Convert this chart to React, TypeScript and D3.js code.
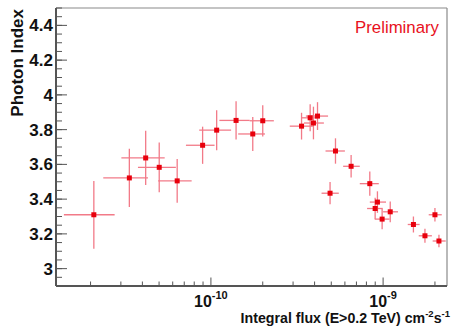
import React from "react";
import * as d3 from "d3";

// Integral flux (E>0.2 TeV), cm^-2 s^-1, in units of 1e-10
const flux = [0.209, 0.336, 0.418, 0.501, 0.637, 0.895, 1.08, 1.40, 1.75, 2.00, 3.36, 3.77, 3.94, 4.16, 5.29, 6.52, 4.92, 8.37, 9.27, 8.99, 11.0, 9.87, 15.0, 17.5, 20.0, 21.1];
const fluxLo = [0.140, 0.237, 0.302, 0.377, 0.494, 0.716, 0.855, 1.12, 1.44, 1.68, 2.87, 3.37, 3.47, 3.56, 4.63, 5.86, 4.39, 7.32, 8.37, 8.07, 10.0, 8.95, 13.9, 16.1, 18.4, 19.4];
const fluxHi = [0.276, 0.431, 0.539, 0.626, 0.773, 1.05, 1.31, 1.68, 2.06, 2.32, 3.91, 4.18, 4.53, 4.79, 6.00, 7.32, 5.53, 9.44, 10.4, 9.96, 12.2, 10.9, 16.3, 19.2, 21.9, 23.1];
const index = [3.31, 3.522, 3.637, 3.583, 3.505, 3.710, 3.797, 3.853, 3.775, 3.851, 3.820, 3.868, 3.838, 3.878, 3.677, 3.589, 3.434, 3.489, 3.383, 3.346, 3.327, 3.285, 3.254, 3.189, 3.310, 3.159];
const indexErr = [0.195, 0.168, 0.156, 0.143, 0.126, 0.107, 0.115, 0.110, 0.098, 0.090, 0.077, 0.078, 0.094, 0.080, 0.073, 0.065, 0.064, 0.070, 0.062, 0.062, 0.060, 0.058, 0.046, 0.040, 0.039, 0.036];

const yTicks = [3, 3.2, 3.4, 3.6, 3.8, 4, 4.2, 4.4];
const yTickLabels = ["3", "3.2", "3.4", "3.6", "3.8", "4", "4.2", "4.4"];
const xMajor = [1e-10, 1e-9];
const xMajorExp = ["-10", "-9"];
const yDomain = [2.9, 4.5];
const xDomain = [1.26e-11, 2.35e-9];

const W = 451, H = 327;
const L = 56, R = 447, T = 8, B = 286;

export default function App() {
  const x = d3.scaleLog().domain(xDomain).range([L, R]);
  const y = d3.scaleLinear().domain(yDomain).range([B, T]);
  const font = "'Liberation Sans', Arial, Helvetica, sans-serif";
  const red = "#e8000c";
  const pink = "#f27a88";

  const yMinor = d3.range(2.9, 4.5001, 0.05).map((v) => +v.toFixed(2));
  const xMinor: number[] = [];
  for (let e = -11; e <= -9; e++) {
    for (let m = 2; m <= 9; m++) {
      const v = m * Math.pow(10, e);
      if (v >= xDomain[0] && v <= xDomain[1]) xMinor.push(v);
    }
  }

  const pts = flux.map((f, i) => ({
    f: f * 1e-10,
    lo: fluxLo[i] * 1e-10,
    hi: fluxHi[i] * 1e-10,
    v: index[i],
    e: indexErr[i],
  }));

  return (
    <svg width={W} height={H} style={{ display: "block", position: "absolute", left: 0, top: 0 }}>
      <rect x={0} y={0} width={W} height={H} fill="#fff" />
      {/* frame */}
      <line x1={L} x2={R} y1={T} y2={T} stroke="#8a8a8a" strokeWidth={1.2} />
      <line x1={R} x2={R} y1={T} y2={B} stroke="#8a8a8a" strokeWidth={1.2} />
      {/* y minor ticks */}
      {yMinor.map((v, i) => (
        <line key={"ym" + i} x1={L} x2={L + 6} y1={y(v)} y2={y(v)} stroke="#555" strokeWidth={1} />
      ))}
      {yTicks.map((v, i) => (
        <line key={"yM" + i} x1={L} x2={L + 11} y1={y(v)} y2={y(v)} stroke="#555" strokeWidth={1} />
      ))}
      {yTicks.map((v, i) => (
        <text key={"yl" + i} x={L - 3} y={y(v) + 6} textAnchor="end" fontFamily={font} fontWeight="bold" fontSize={17} fill="#111">
          {yTickLabels[i]}
        </text>
      ))}
      {/* x ticks */}
      {xMinor.map((v, i) => (
        <line key={"xm" + i} x1={x(v)} x2={x(v)} y1={B} y2={B - 4.5} stroke="#555" strokeWidth={1} />
      ))}
      {xMajor.map((v, i) => (
        <line key={"xM" + i} x1={x(v)} x2={x(v)} y1={B} y2={B - 8.5} stroke="#555" strokeWidth={1} />
      ))}
      {xMajor.map((v, i) => (
        <text key={"xl" + i} x={x(v)} y={307} textAnchor="middle" fontFamily={font} fontWeight="bold" fontSize={16} fill="#111">
          10<tspan fontSize={11} dy={-8}>{xMajorExp[i]}</tspan>
        </text>
      ))}
      {/* axes lines */}
      <line x1={L} x2={L} y1={T} y2={B} stroke="#555" strokeWidth={2} />
      <line x1={L} x2={R} y1={B} y2={B} stroke="#555" strokeWidth={2} />
      {/* titles */}
      <text transform={`translate(23,${T + 1}) rotate(-90)`} textAnchor="end" fontFamily={font} fontWeight="bold" fontSize={17} fill="#111">
        Photon Index
      </text>
      <text x={450} y={323} textAnchor="end" fontFamily={font} fontWeight="bold" fontSize={14.2} fill="#111">
        Integral flux (E&gt;0.2 TeV) cm<tspan fontSize={9.5} dy={-6}>-2</tspan><tspan dy={6}>s</tspan><tspan fontSize={9.5} dy={-6}>-1</tspan>
      </text>
      <text x={439} y={32.5} textAnchor="end" fontFamily={font} fontSize={16.8} fill="#e8101c">
        Preliminary
      </text>
      {/* error bars */}
      {pts.map((p, i) => (
        <g key={"e" + i} stroke={pink} strokeWidth={1.3}>
          <line x1={x(p.lo)} x2={x(p.hi)} y1={y(p.v)} y2={y(p.v)} />
          <line x1={x(p.f)} x2={x(p.f)} y1={y(p.v - p.e)} y2={y(p.v + p.e)} />
        </g>
      ))}
      {/* markers */}
      {pts.map((p, i) => (
        <rect key={"m" + i} x={x(p.f) - 2.5} y={y(p.v) - 2.5} width={5} height={5} fill={red} />
      ))}
    </svg>
  );
}
